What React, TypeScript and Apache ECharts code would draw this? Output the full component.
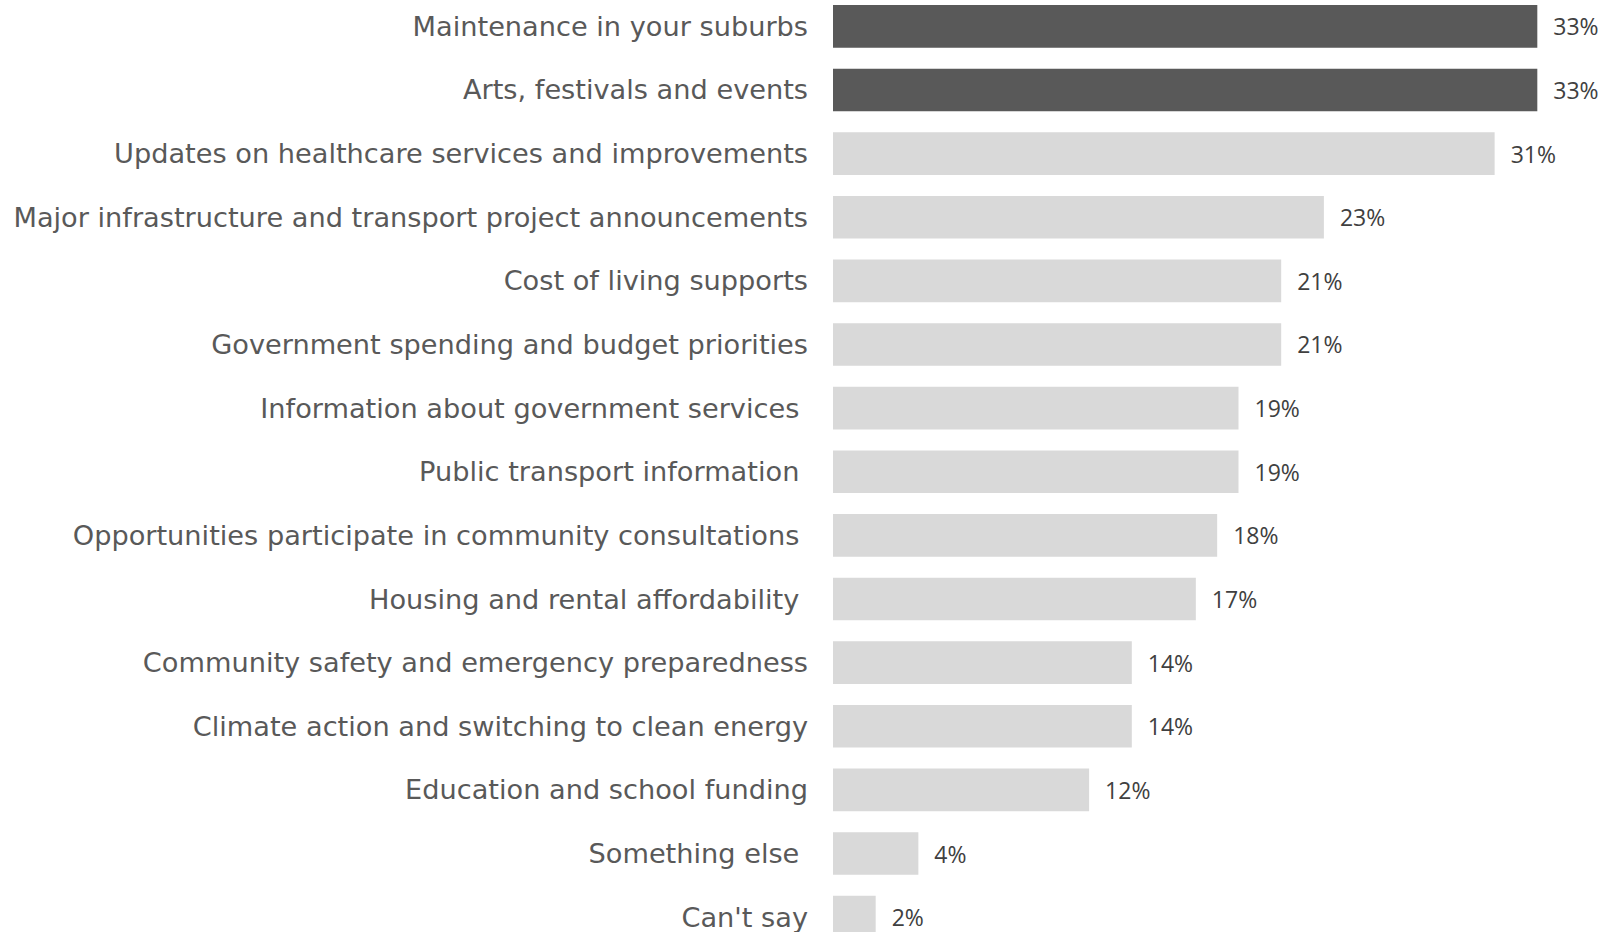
import React, { useEffect, useRef } from "react";
import * as echarts from "echarts";

const categories = [
  "Maintenance in your suburbs",
  "Arts, festivals and events",
  "Updates on healthcare services and improvements",
  "Major infrastructure and transport project announcements",
  "Cost of living supports",
  "Government spending and budget priorities",
  "Information about government services ",
  "Public transport information ",
  "Opportunities participate in community consultations ",
  "Housing and rental affordability ",
  "Community safety and emergency preparedness",
  "Climate action and switching to clean energy",
  "Education and school funding",
  "Something else ",
  "Can't say",
];

const values = [33, 33, 31, 23, 21, 21, 19, 19, 18, 17, 14, 14, 12, 4, 2];
const highlighted = [true, true, false, false, false, false, false, false, false, false, false, false, false, false, false];

const DARK = "#595959";
const LIGHT = "#d9d9d9";

export default function App() {
  const ref = useRef<HTMLDivElement>(null);
  useEffect(() => {
    if (!ref.current) return;
    const chart = echarts.init(ref.current, null, { renderer: "svg" });
    chart.setOption({
      animation: false,
      backgroundColor: "#ffffff",
      grid: { left: 833, right: 30, top: 0.5, bottom: 0, containLabel: false },
      xAxis: {
        type: "value",
        min: 0,
        max: 35,
        show: false,
      },
      yAxis: {
        type: "category",
        inverse: true,
        data: categories,
        axisLine: { show: false },
        axisTick: { show: false },
        axisLabel: {
          margin: 25,
          color: "#595959",
          fontFamily: "DejaVu Sans",
          fontSize: 27.2,
        },
      },
      series: [
        {
          type: "bar",
          barCategoryGap: "33%",
          data: values.map((v, i) => ({
            value: v,
            itemStyle: { color: highlighted[i] ? DARK : LIGHT },
          })),
          label: {
            show: true,
            position: "right",
            distance: 16,
            formatter: "{c}%",
            color: "#404040",
            fontFamily: "Open Sans",
            fontSize: 23,
          },
        },
      ],
    });
    return () => chart.dispose();
  }, []);
  return (
    <div style={{ position: "fixed", left: 0, top: 0, width: 1610, height: 932, overflow: "hidden", background: "#fff" }}>
      <div
        ref={ref}
        style={{ position: "absolute", left: 0, top: -6, width: 1610, height: 955 }}
      />
    </div>
  );
}
